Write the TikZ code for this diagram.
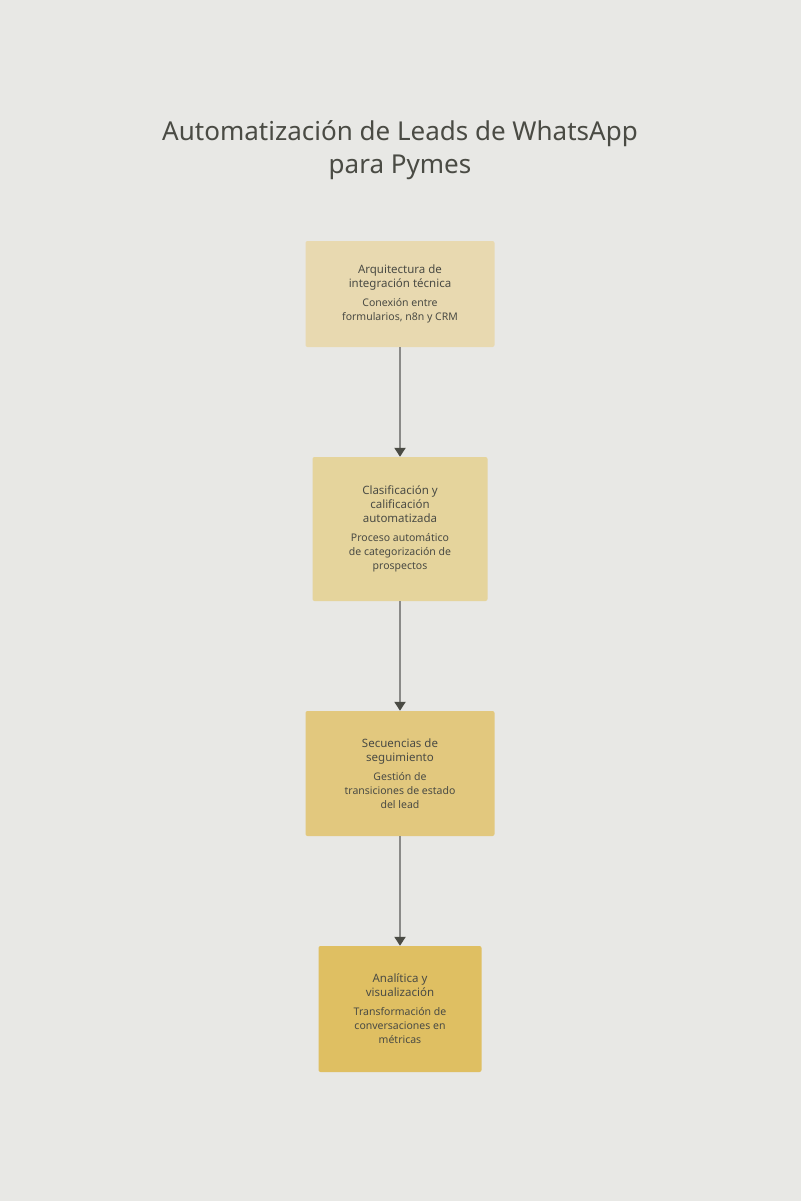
\documentclass[tikz,border=0pt]{standalone}
\usepackage{fontspec}
\setmainfont{Noto Sans}
\usetikzlibrary{arrows.meta}
\definecolor{bgcol}{HTML}{E8E8E5}
\definecolor{inkcol}{HTML}{4A4B44}
\definecolor{linecol}{HTML}{8A8A88}
\definecolor{stepa}{HTML}{E8D9B0}
\definecolor{stepb}{HTML}{E5D49C}
\definecolor{stepc}{HTML}{E2C87E}
\definecolor{stepd}{HTML}{DFBF62}
\tikzset{
  stage/.style={draw=none, rounded corners=2pt, align=center, text=inkcol,
    font=\fontsize{10.5pt}{14pt}\selectfont, inner sep=0pt},
  link/.style={draw=linecol, line width=2pt,
    -{Triangle[length=9pt,width=11pt,color=inkcol]}},
}
\newcommand{\stagehead}{\bfseries\fontsize{11.5pt}{14.5pt}\selectfont}
\begin{document}
\begin{tikzpicture}[x=1pt,y=-1pt]
  \fill[bgcol] (0,0) rectangle (801,1201);
  \useasboundingbox (0,0) rectangle (801,1201);

  \node (title) at (400,150) [text=inkcol, align=center, font=\bfseries\fontsize{26pt}{33pt}\selectfont] {Automatización de Leads de WhatsApp\\para Pymes};

  \node (arq) at (400,294) [stage, fill=stepa, minimum width=189pt, minimum height=106pt] {{\stagehead Arquitectura de}\\{\stagehead integración técnica}\\[5pt]Conexión entre\\formularios, n8n y CRM};
  \node (cla) at (400,529) [stage, fill=stepb, minimum width=175pt, minimum height=144pt] {{\stagehead Clasificación y}\\{\stagehead calificación}\\{\stagehead automatizada}\\[5pt]Proceso automático\\de categorización de\\prospectos};
  \node (sec) at (400,773.5) [stage, fill=stepc, minimum width=189pt, minimum height=125pt] {{\stagehead Secuencias de}\\{\stagehead seguimiento}\\[5pt]Gestión de\\transiciones de estado\\del lead};
  \node (ana) at (400,1009) [stage, fill=stepd, minimum width=163pt, minimum height=126pt] {{\stagehead Analítica y}\\{\stagehead visualización}\\[5pt]Transformación de\\conversaciones en\\métricas};

  \draw [link] (arq) -- (cla);
  \draw [link] (cla) -- (sec);
  \draw [link] (sec) -- (ana);
\end{tikzpicture}
\end{document}
